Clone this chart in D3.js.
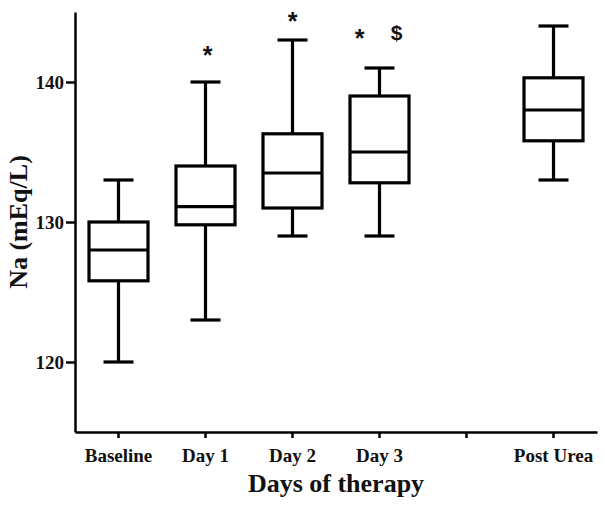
<!DOCTYPE html>
<html>
<head>
<meta charset="utf-8">
<script src="https://cdn.jsdelivr.net/npm/d3@7"></script>
<style>
  html, body { margin: 0; padding: 0; background: #fff; }
  svg { display: block; }
</style>
</head>
<body>
<div id="chart"></div>
<script>
// ---- data ----
const categories = ["Baseline", "Day 1", "Day 2", "Day 3", "", "Post Urea"];
const boxCats   = ["Baseline", "Day 1", "Day 2", "Day 3", "Post Urea"];
const whiskerLow  = [120, 123, 129, 129, 133];
const q1Values    = [125.8, 129.8, 131.0, 132.8, 135.8];
const medians     = [128.0, 131.1, 133.5, 135.0, 138.0];
const q3Values    = [130.0, 134.0, 136.3, 139.0, 140.3];
const whiskerHigh = [133, 140, 143, 141, 144];
const yTicks = [120, 130, 140];
const annotCats    = ["Day 1", "Day 2", "Day 3", "Day 3"];
const annotSymbols = ["*", "*", "*", "$"];
const xTitle = "Days of therapy";
const yTitle = "Na (mEq/L)";

// ---- layout ----
const W = 605, H = 513;
const svg = d3.select("#chart").append("svg").attr("width", W).attr("height", H);

const x = d3.scaleBand().domain(categories).range([75, 597]);
const y = d3.scaleLinear().domain([115, 145]).range([432, 12]);
const boxW = 59, capW = 30;

const font = "'Liberation Serif','Times New Roman',serif";

// axes
const xAxis = svg.append("g").attr("transform", "translate(0,432)")
  .call(d3.axisBottom(x).tickSize(6).tickSizeOuter(0).tickPadding(6));
const yAxis = svg.append("g").attr("transform", "translate(75,0)")
  .call(d3.axisLeft(y).tickValues(yTicks).tickSize(9).tickSizeOuter(0).tickPadding(2));

[xAxis, yAxis].forEach(g => {
  g.select(".domain").attr("stroke", "#000").attr("stroke-width", 2.5);
  g.selectAll(".tick line").attr("stroke", "#000").attr("stroke-width", 2.5);
  g.selectAll(".tick text").attr("fill", "#111").attr("font-family", font)
    .attr("font-weight", "bold").attr("font-size", 19);
});
xAxis.selectAll(".tick text").attr("dy", "0.95em");

// boxes
const data = boxCats.map((c, i) => ({
  cat: c, lo: whiskerLow[i], q1: q1Values[i], med: medians[i], q3: q3Values[i], hi: whiskerHigh[i]
}));
const g = svg.append("g").attr("stroke", "#000").attr("stroke-width", 3.2).attr("fill", "none");
const bx = g.selectAll("g.box").data(data).join("g").attr("class", "box");
const cx = d => x(d.cat) + x.bandwidth() / 2;

bx.append("line").attr("x1", cx).attr("x2", cx).attr("y1", d => y(d.hi)).attr("y2", d => y(d.q3));
bx.append("line").attr("x1", cx).attr("x2", cx).attr("y1", d => y(d.q1)).attr("y2", d => y(d.lo));
bx.append("line").attr("x1", d => cx(d) - capW / 2).attr("x2", d => cx(d) + capW / 2)
  .attr("y1", d => y(d.hi)).attr("y2", d => y(d.hi));
bx.append("line").attr("x1", d => cx(d) - capW / 2).attr("x2", d => cx(d) + capW / 2)
  .attr("y1", d => y(d.lo)).attr("y2", d => y(d.lo));
bx.append("rect").attr("x", d => cx(d) - boxW / 2).attr("width", boxW)
  .attr("y", d => y(d.q3)).attr("height", d => y(d.q1) - y(d.q3)).attr("fill", "#fff");
bx.append("line").attr("x1", d => cx(d) - boxW / 2).attr("x2", d => cx(d) + boxW / 2)
  .attr("y1", d => y(d.med)).attr("y2", d => y(d.med));

// annotations
const annotDx = [2, 0, -20, 17];
const annotDy = [-35, -27, -38, -36];
annotCats.forEach((c, i) => {
  const hi = whiskerHigh[boxCats.indexOf(c)];
  const isStar = annotSymbols[i] === "*";
  svg.append("text")
    .attr("x", x(c) + x.bandwidth() / 2 + annotDx[i])
    .attr("y", y(hi) + annotDy[i])
    .attr("text-anchor", "middle")
    .attr("dominant-baseline", "central")
    .attr("font-family", "'Liberation Sans',Arial,sans-serif")
    .attr("font-weight", "bold")
    .attr("font-size", isStar ? 25 : 21)
    .attr("dy", isStar ? "0.3em" : "0")
    .attr("fill", "#111")
    .text(annotSymbols[i]);
});

// titles
svg.append("text").attr("x", 336).attr("y", 492).attr("text-anchor", "middle")
  .attr("font-family", font).attr("font-weight", "bold").attr("font-size", 26)
  .attr("fill", "#111").text(xTitle);
svg.append("text").attr("transform", "translate(27,222) rotate(-90)").attr("text-anchor", "middle")
  .attr("font-family", font).attr("font-weight", "bold").attr("font-size", 26)
  .attr("fill", "#111").text(yTitle);
</script>
</body>
</html>
